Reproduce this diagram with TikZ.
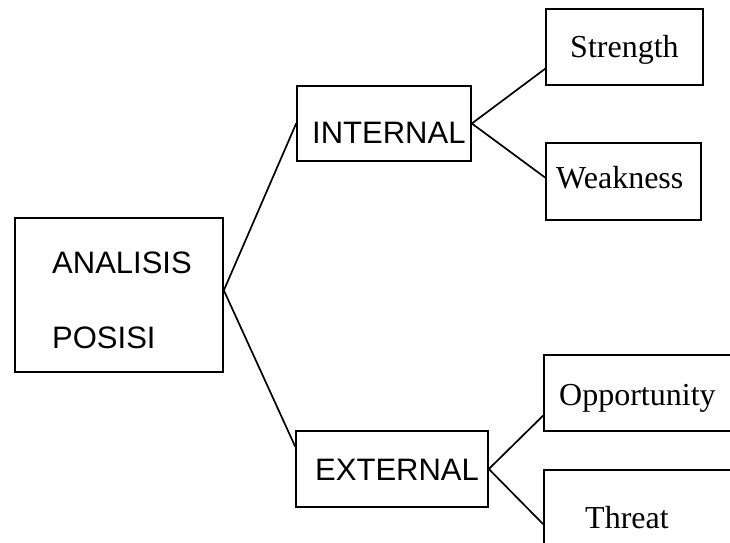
\documentclass[tikz,border=0pt]{standalone}
\usepackage{fontspec}
\setmainfont{Liberation Serif}
\newfontfamily\arialf{Liberation Sans}
\usetikzlibrary{calc}
\begin{document}
\begin{tikzpicture}[x=1pt,y=-1pt,
  box/.style={draw=black,line width=1.7pt,rectangle,inner sep=0pt},
  conn/.style={draw=black,line width=1.7pt},
  stxt/.style={inner sep=0pt,anchor=base west,font=\arialf\fontsize{31}{37}\selectfont},
  rtxt/.style={inner sep=0pt,anchor=base west,font=\fontsize{32}{38}\selectfont}]
\useasboundingbox (0,0) rectangle (730,542);
\clip (0,0) rectangle (730,542);
% boxes
\node[box,minimum width=208pt,minimum height=154pt] (ana) at (119,295) {};
\node[box,minimum width=174pt,minimum height=75pt] (int) at (384,123.5) {};
\node[box,minimum width=192pt,minimum height=76pt] (ext) at (392,469) {};
\node[box,minimum width=157pt,minimum height=76pt] (str) at (624.5,47) {};
\node[box,minimum width=155pt,minimum height=77pt] (wea) at (623.5,181.5) {};
\node[box,minimum width=216pt,minimum height=76pt] (opp) at (652,393) {};
\node[box,minimum width=216pt,minimum height=140pt] (thr) at (652,540) {};
% texts
\node[stxt] (anaA) at (52,273) {ANALISIS};
\node[stxt] (anaB) at (52,348) {POSISI};
\node[stxt] (intT) at (312,143) {INTERNAL};
\node[stxt] (extT) at (315,480) {EXTERNAL};
\node[rtxt] (strT) at (570,57) {Strength};
\node[rtxt] (weaT) at (556,188) {Weakness};
\node[rtxt] (oppT) at (559,405) {Opportunity};
\node[rtxt] (thrT) at (585,528) {Threat};
% connectors
\coordinate (aR) at ($(ana.north east)!0.47!(ana.south east)$);
\draw[conn] (aR) -- (int.west);
\draw[conn] (aR) -- ($(ext.north west)!0.21!(ext.south west)$);
\draw[conn] (int.east) -- ($(str.north west)!0.78!(str.south west)$);
\draw[conn] (int.east) -- ($(wea.north west)!0.45!(wea.south west)$);
\draw[conn] (ext.east) -- ($(opp.north west)!0.79!(opp.south west)$);
\draw[conn] (ext.east) -- ($(thr.north west)+(0,55)$);
\end{tikzpicture}
\end{document}
